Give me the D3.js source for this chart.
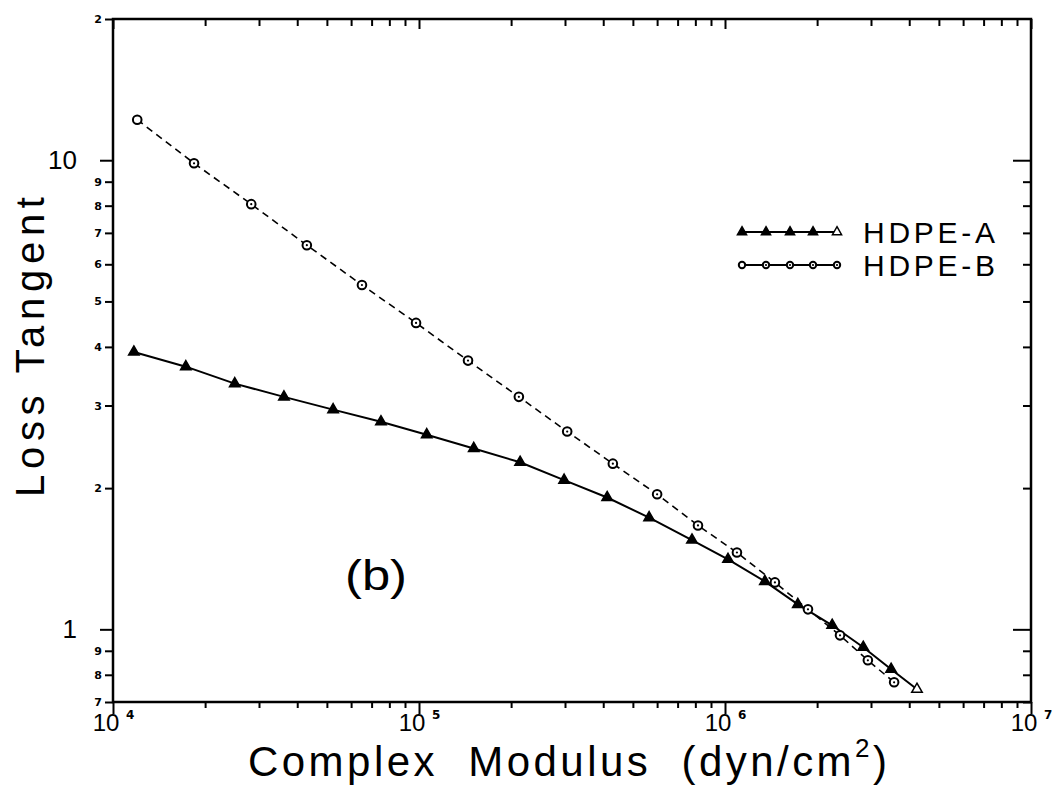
<!DOCTYPE html>
<meta charset="utf-8">

<style>
body {
  margin: 0;
  background: #fff;
}

svg {
  font-family: "Liberation Sans", Arial, sans-serif;
}

.frame {
  fill: none;
  stroke: #000;
  stroke-width: 2.5px;
}

.axis path.domain {
  display: none;
}

.axis line {
  stroke: #000;
  stroke-width: 2px;
}

.minor-label text {
  font: bold 11px "DejaVu Sans", sans-serif;
  fill: #000;
}

.major-label text {
  font-size: 26px;
  fill: #000;
}

.line-a {
  fill: none;
  stroke: #000;
  stroke-width: 2px;
}

.line-b {
  fill: none;
  stroke: #000;
  stroke-width: 1.6px;
  stroke-dasharray: 7,5;
}

.title {
  fill: #000;
}
</style>

<svg width="1056" height="787"></svg>
<script src="https://d3js.org/d3.v7.min.js"></script>

<script>
// HDPE-A (filled triangles, solid line)
var modulusA = [11700, 17300, 25000, 36200, 52400, 75100, 106000, 151000, 214000, 298000,
                412000, 565000, 780000, 1023000, 1350000, 1730000, 2240000, 2830000, 3490000, 4240000];
var tanA = [3.90, 3.63, 3.34, 3.13, 2.94, 2.77, 2.60, 2.43, 2.27, 2.08,
            1.91, 1.73, 1.55, 1.41, 1.265, 1.13, 1.02, 0.916, 0.822, 0.745];

// HDPE-B (open circles, dashed line)
var modulusB = [12000, 18400, 28300, 43000, 65100, 97800, 144600, 212000, 305000, 430000,
                600000, 816000, 1094000, 1456000, 1867000, 2376000, 2930000, 3570000];
var tanB = [12.2, 9.85, 8.06, 6.59, 5.42, 4.50, 3.74, 3.13, 2.64, 2.255,
            1.94, 1.665, 1.458, 1.259, 1.103, 0.971, 0.859, 0.771];

var seriesNames = ["HDPE-A", "HDPE-B"];

var xMajor = [1e4, 1e5, 1e6, 1e7];
var xExponents = ["4", "5", "6", "7"];
var yMajor = [1, 10];
var yMajorLabels = ["1", "10"];
var yMinor = [0.7, 0.8, 0.9, 2, 3, 4, 5, 6, 7, 8, 9, 20];
var yMinorLabels = ["7", "8", "9", "2", "3", "4", "5", "6", "7", "8", "9", "2"];

var svg = d3.select("svg"),
    margin = {top: 19, right: 25, bottom: 85, left: 113},
    width = svg.attr("width") - margin.left - margin.right,
    height = svg.attr("height") - margin.top - margin.bottom,
    g = svg.append("g").attr("transform", "translate(" + margin.left + "," + margin.top + ")");

var x = d3.scaleLog().domain([1e4, 1e7]).range([0, width]),
    y = d3.scaleLog().domain([0.7, 20]).range([height, 0]);

// minor x ticks 2..9 in each decade
var xMinor = [];
[1e4, 1e5, 1e6].forEach(function(dec) {
    for (var m = 2; m <= 9; m++) xMinor.push(m * dec);
});

// bottom axis (ticks outward)
g.append("g")
    .attr("class", "axis")
    .attr("transform", "translate(0," + height + ")")
    .call(d3.axisBottom(x).tickValues(xMinor).tickSize(6).tickFormat(""));

var xMaj = g.append("g")
    .attr("class", "axis")
    .attr("transform", "translate(0," + height + ")")
    .call(d3.axisBottom(x).tickValues(xMajor).tickSize(12).tickFormat(""));

xMaj.selectAll(".tick").append("text")
    .attr("y", 29)
    .attr("fill", "#000")
    .attr("text-anchor", "middle")
    .style("font-size", "24px")
    .each(function(d, i) {
        var t = d3.select(this);
        t.append("tspan").text("10\u00a0");
        t.append("tspan")
            .attr("dy", -12)
            .style("font", "bold 12px 'DejaVu Sans', sans-serif")
            .text(xExponents[i]);
    });

// top axis (ticks inward)
g.append("g")
    .attr("class", "axis")
    .call(d3.axisTop(x).tickValues(xMinor).tickSize(-7).tickFormat(""));
g.append("g")
    .attr("class", "axis")
    .call(d3.axisTop(x).tickValues(xMajor).tickSize(-10).tickFormat(""));

// left axis (ticks outward, labelled)
g.append("g")
    .attr("class", "axis minor-label")
    .call(d3.axisLeft(y).tickValues(yMinor).tickSize(8).tickPadding(3)
        .tickFormat(function(d, i) { return yMinorLabels[i]; }));
g.append("g")
    .attr("class", "axis major-label")
    .call(d3.axisLeft(y).tickValues(yMajor).tickSize(13).tickPadding(23)
        .tickFormat(function(d, i) { return yMajorLabels[i]; }));

// right axis (ticks inward)
g.append("g")
    .attr("class", "axis")
    .attr("transform", "translate(" + width + ",0)")
    .call(d3.axisRight(y).tickValues(yMinor.slice(0, 11)).tickSize(-8).tickFormat(""));
g.append("g")
    .attr("class", "axis")
    .attr("transform", "translate(" + width + ",0)")
    .call(d3.axisRight(y).tickValues(yMajor).tickSize(-18).tickFormat(""));

g.append("rect")
    .attr("class", "frame")
    .attr("width", width)
    .attr("height", height);

// curves
var dataA = d3.zip(modulusA, tanA),
    dataB = d3.zip(modulusB, tanB);

var line = d3.line()
    .x(function(d) { return x(d[0]); })
    .y(function(d) { return y(d[1]); });

g.append("path").attr("class", "line-b").attr("d", line(dataB));
g.append("path").attr("class", "line-a").attr("d", line(dataA));

function drawTriangles(sel, pts, size) {
    sel.selectAll(null)
        .data(pts)
      .enter().append("path")
        .attr("d", d3.symbol().type(d3.symbolTriangle).size(size))
        .attr("transform", function(d) { return "translate(" + d[0] + "," + d[1] + ")"; })
        .attr("fill", function(d, i) { return i == pts.length - 1 ? "#fff" : "#000"; })
        .attr("stroke", "#000")
        .attr("stroke-width", 1.5);
}

function drawCircles(sel, pts, r) {
    var c = sel.selectAll(null)
        .data(pts)
      .enter().append("g")
        .attr("transform", function(d) { return "translate(" + d[0] + "," + d[1] + ")"; });
    c.append("circle")
        .attr("r", r)
        .attr("fill", "#fff")
        .attr("stroke", "#000")
        .attr("stroke-width", 2);
    c.filter(function(d, i) { return i > 0; })
        .append("circle")
        .attr("r", 1.1)
        .attr("fill", "#000");
}

drawCircles(g.append("g"), dataB.map(function(d) { return [x(d[0]), y(d[1])]; }), 4.3);
drawTriangles(g.append("g"), dataA.map(function(d) { return [x(d[0]), y(d[1])]; }), 48);

// legend
var legendX = [629, 653, 677, 700, 724],
    legendY = [213, 246];

seriesNames.forEach(function(name, k) {
    var lg = g.append("g");
    lg.append("line")
        .attr("x1", legendX[0]).attr("x2", legendX[4])
        .attr("y1", legendY[k]).attr("y2", legendY[k])
        .attr("stroke", "#000")
        .attr("stroke-width", 1.8);
    var pts = legendX.map(function(px) { return [px, legendY[k]]; });
    if (k == 0) drawTriangles(lg, pts, 36);
    else drawCircles(lg, pts, 3.2);
    lg.append("text")
        .attr("class", "title")
        .attr("x", 750)
        .attr("y", legendY[k] + 11)
        .attr("textLength", 132)
        .attr("lengthAdjust", "spacing")
        .style("font-size", "30px")
        .text(name);
});

// panel tag
g.append("text")
    .attr("class", "title")
    .attr("x", 232)
    .attr("y", 571)
    .attr("textLength", 62)
    .attr("lengthAdjust", "spacingAndGlyphs")
    .style("font-size", "42px")
    .text("(b)");

// axis titles
var xt = svg.append("text")
    .attr("class", "title")
    .attr("x", 248)
    .attr("y", 776)
    .attr("textLength", 639)
    .attr("lengthAdjust", "spacing")
    .style("font-size", "42px");
xt.append("tspan").text("Complex\u00a0 Modulus\u00a0 (dyn/cm");
xt.append("tspan").attr("dy", -19).style("font-size", "26px").text("2");
xt.append("tspan").attr("dy", 19).text(")");

svg.append("text")
    .attr("class", "title")
    .attr("transform", "translate(44,497) rotate(-90)")
    .attr("textLength", 300)
    .attr("lengthAdjust", "spacing")
    .style("font-size", "40px")
    .text("Loss Tangent");
</script>
